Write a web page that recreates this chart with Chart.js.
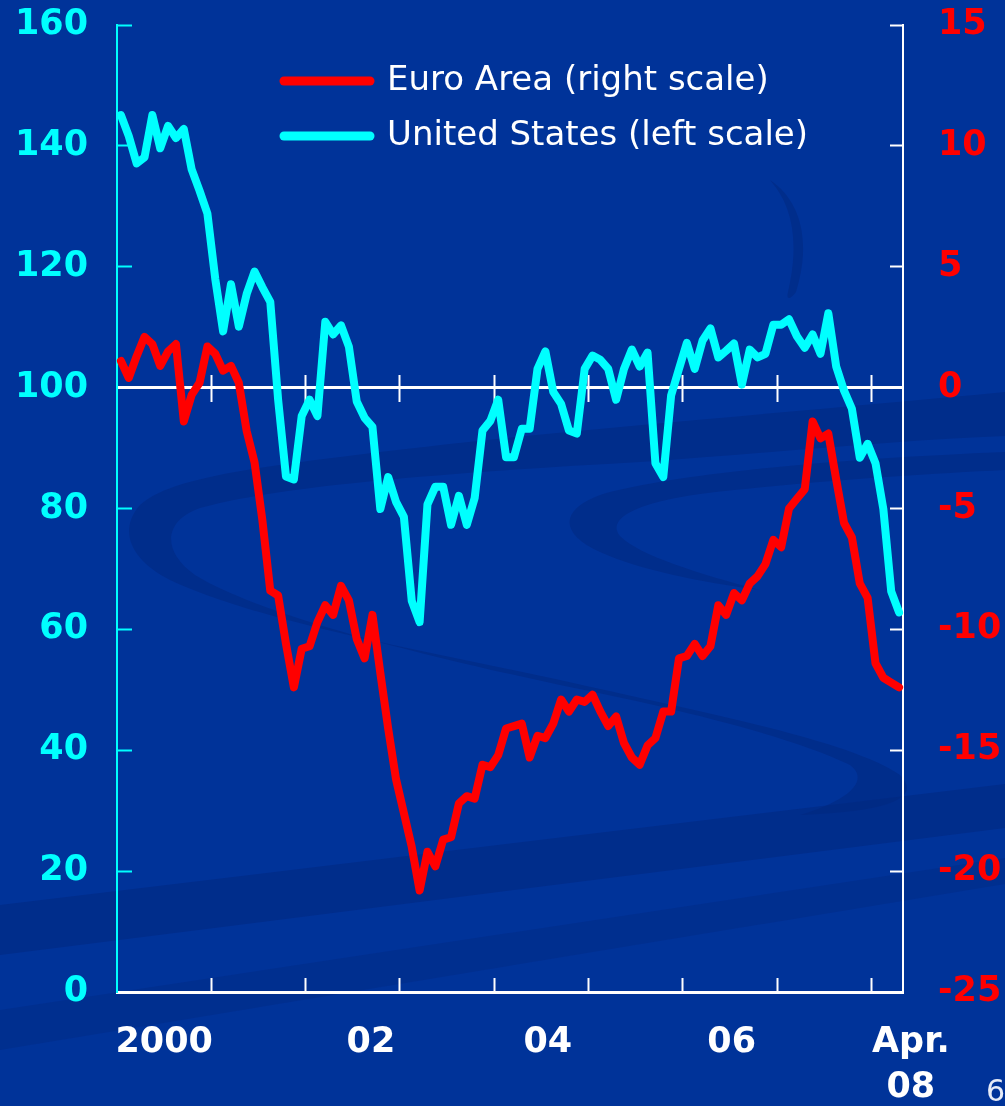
<!DOCTYPE html>
<html>
<head>
<meta charset="utf-8">
<script src="https://cdn.jsdelivr.net/npm/chart.js@4.4.1/dist/chart.umd.min.js"></script>
<style>
  html, body { margin: 0; padding: 0; background: #003399; overflow: hidden; }
  #wrap { position: relative; width: 1005px; height: 1106px; }
  #bg, #chart { position: absolute; left: 0; top: 0; }
  #page { position: absolute; left: 986px; top: 1073px; font: 30px "DejaVu Sans", sans-serif; color: #e6ebf7; }
</style>
</head>
<body>
<div id="wrap">
  <svg id="bg" width="1005" height="1106" viewBox="0 0 1005 1106">
    <rect width="1005" height="1106" fill="#003399"/>
    <g fill="#00287f" fill-opacity="0.55">
      <!-- large swoosh loop -->
      <path d="M1005,392 C820,410 560,430 380,452 C250,468 170,478 140,505 C118,530 130,560 170,580
               C260,622 420,650 560,680 C700,712 850,740 900,775 C925,800 880,812 800,815
               C850,800 870,780 850,765 C790,735 660,705 560,685 C420,655 260,615 195,575
               C160,550 165,520 200,508 C280,485 460,472 640,462 C780,452 900,440 1005,436 Z"/>
      <!-- smaller inner loop -->
      <path d="M1005,452 C860,458 700,470 610,492 C560,506 556,532 600,552 C640,570 700,582 760,590
               C700,574 640,556 620,536 C605,518 640,502 700,494 C800,482 920,474 1005,470 Z"/>
      <!-- upper right arc -->
      <path d="M770,180 C800,200 812,240 796,292 C790,300 786,300 788,292 C800,240 792,205 770,180 Z"/>
      <!-- diagonal bands -->
      <path d="M0,905 L1005,784 L1005,828 L0,955 Z"/>
      <path d="M0,1010 L1005,858 L1005,884 L0,1050 Z" fill-opacity="0.35"/>
    </g>
  </svg>
  <canvas id="chart" width="1005" height="1106"></canvas>
  <div id="page">6</div>
</div>
<script>
// Monthly consumer confidence, January 2000 to April 2008
const months = [];
for (let yr = 2000; yr <= 2008; yr++) {
  for (let m = 1; m <= 12; m++) {
    if (yr === 2008 && m > 4) break;
    months.push(yr + '-' + String(m).padStart(2, '0'));
  }
}

// Euro Area, balance of opinion (right scale)
const euroArea = [
  1.1, 0.4, 1.3, 2.1, 1.8, 0.9, 1.5, 1.8, -1.4, -0.3, 0.2, 1.7,
  1.4, 0.7, 0.9, 0.2, -1.8, -3.1, -5.5, -8.4, -8.6, -10.6, -12.4, -10.8,
  -10.7, -9.7, -9.0, -9.4, -8.2, -8.8, -10.4, -11.2, -9.4, -11.8, -14.1, -16.2,
  -17.6, -19.0, -20.8, -19.2, -19.8, -18.7, -18.6, -17.2, -16.9, -17.0, -15.6, -15.7,
  -15.2, -14.1, -14.0, -13.9, -15.3, -14.4, -14.5, -13.9, -12.9, -13.4, -12.9, -13.0,
  -12.7, -13.4, -14.0, -13.6, -14.7, -15.3, -15.6, -14.8, -14.5, -13.4, -13.4, -11.2,
  -11.1, -10.6, -11.1, -10.7, -9.0, -9.4, -8.5, -8.8, -8.1, -7.8, -7.3, -6.3,
  -6.6, -5.0, -4.6, -4.2, -1.4, -2.1, -1.9, -3.8, -5.6, -6.2, -8.1, -8.7,
  -11.4, -12.0, -12.2, -12.4
];

// United States, index 1985 = 100 (left scale)
const unitedStates = [
  145.1, 141.6, 137.1, 138.1, 145.1, 139.6, 143.3, 141.3, 142.8, 136.1, 132.6, 128.8,
  118.0, 109.3, 117.1, 110.1, 115.5, 119.2, 116.6, 114.2, 98.0, 85.3, 84.8, 95.3,
  98.0, 95.3, 110.9, 108.8, 110.3, 106.8, 97.7, 95.0, 93.5, 79.9, 85.2, 81.1,
  78.6, 64.7, 61.2, 80.7, 83.6, 83.6, 77.3, 82.1, 77.3, 81.7, 92.9, 94.5,
  98.0, 88.5, 88.5, 93.2, 93.2, 103.1, 106.0, 99.3, 97.3, 92.9, 92.4, 103.1,
  105.3, 104.6, 103.1, 98.0, 103.1, 106.3, 103.5, 105.8, 87.5, 85.2, 98.7, 103.1,
  107.4, 103.1, 107.8, 109.8, 105.0, 106.1, 107.3, 100.5, 106.3, 105.0, 105.6, 110.4,
  110.4, 111.3, 108.5, 106.6, 108.8, 105.6, 112.3, 103.5, 99.5, 96.5, 88.4, 90.7,
  87.5, 79.9, 66.3, 62.8
];

// Time axis: year boundaries (months since Jan 2000) and the year captions
const yearStarts = [12, 24, 36, 48, 60, 72, 84, 96];
const yearLabels = ['2000', '02', '04', '06', ['Apr.', '08']];
const yearLabelAt = [6, 32.3, 54.8, 78.2, 101];

const FONT = 'DejaVu Sans';
Chart.defaults.font.family = FONT;

const boldTicks = { family: FONT, weight: 'bold', size: 35, lineHeight: 1.3 };

function yearMarks(scale) {
  scale.ticks = yearStarts.map(v => ({ value: v }));
}

// The value axes keep their full height: no extra room reserved for end labels
function fixedWidth(w) {
  return function (scale) {
    scale.width = w;
    scale.paddingTop = 0;
    scale.paddingBottom = 0;
  };
}

// Places the legend block inside the plot, beside the upper curves
const legendInset = {
  id: 'legendInset',
  afterLayout(chart) {
    const lg = chart.legend;
    if (lg) {
      const pad = lg.options.labels.padding;
      lg.left = 284 - pad;
      lg.top = 81 - 17 - pad;
    }
  }
};

new Chart(document.getElementById('chart'), {
  type: 'line',
  data: {
    labels: months,
    datasets: [
      {
        label: 'Euro Area (right scale)',
        data: euroArea,
        xAxisID: 'x', yAxisID: 'y1',
        borderColor: '#ff0000', backgroundColor: '#ff0000',
        borderWidth: 8, pointRadius: 0, tension: 0,
        borderJoinStyle: 'round', borderCapStyle: 'round', fill: false
      },
      {
        label: 'United States (left scale)',
        data: unitedStates,
        xAxisID: 'x', yAxisID: 'y',
        borderColor: '#00ffff', backgroundColor: '#00ffff',
        borderWidth: 8, pointRadius: 0, tension: 0,
        borderJoinStyle: 'round', borderCapStyle: 'round', fill: false
      }
    ]
  },
  options: {
    responsive: false,
    animation: false,
    events: [],
    layout: { padding: { top: 25, left: 0, right: 0, bottom: 0 } },
    plugins: {
      tooltip: { enabled: false },
      legend: {
        position: 'chartArea',
        align: 'start',
        labels: {
          usePointStyle: true,
          pointStyle: 'line',
          pointStyleWidth: 86,
          color: '#ffffff',
          font: { family: FONT, size: 34 },
          padding: 21,
          generateLabels(chart) {
            const items = Chart.defaults.plugins.legend.labels.generateLabels(chart);
            items.forEach(it => { it.lineCap = 'round'; it.lineWidth = 9; });
            return items;
          }
        }
      }
    },
    scales: {
      x: { type: 'category', offset: true, display: false },
      xt: {
        type: 'linear', position: 'bottom', min: 0, max: 100,
        afterBuildTicks(scale) {
          const t = yearStarts.map(v => ({ value: v })).concat(yearLabelAt.map(v => ({ value: v })));
          t.sort((a, b) => a.value - b.value);
          scale.ticks = t;
        },
        afterFit(scale) { scale.height = 114; },
        ticks: {
          autoSkip: false, maxRotation: 0, minRotation: 0,
          color: '#ffffff', font: boldTicks, padding: 42,
          callback(value) {
            const i = yearLabelAt.indexOf(value);
            return i >= 0 ? yearLabels[i] : '';
          }
        },
        grid: {
          drawOnChartArea: false, drawTicks: true, tickLength: -14, tickWidth: 2,
          tickColor: ctx => (ctx.tick && yearStarts.includes(ctx.tick.value)) ? '#ffffff' : 'rgba(0,0,0,0)'
        },
        border: { display: true, color: '#ffffff', width: 3 }
      },
      xz: {
        type: 'linear', position: { y: 100 }, min: 0, max: 100,
        afterBuildTicks: yearMarks,
        ticks: { display: false },
        grid: { drawOnChartArea: false, tickLength: 13, tickWidth: 2, tickColor: '#ffffff' },
        border: { display: true, color: '#ffffff', width: 3 }
      },
      xz2: {
        type: 'linear', position: { y: 100 }, min: 0, max: 100,
        afterBuildTicks: yearMarks,
        ticks: { display: false },
        grid: { drawOnChartArea: false, tickLength: -13, tickWidth: 2, tickColor: '#ffffff' },
        border: { display: false }
      },
      y: {
        position: 'left', min: 0, max: 160,
        afterFit: fixedWidth(117),
        ticks: { stepSize: 20, color: '#00ffff', font: boldTicks, padding: 44 },
        grid: { drawOnChartArea: false, tickLength: -15, tickWidth: 2, tickColor: '#00ffff' },
        border: { display: true, color: '#00ffff', width: 2 }
      },
      y1: {
        position: 'right', min: -25, max: 15,
        afterFit: fixedWidth(102),
        ticks: { stepSize: 5, color: '#ff0000', font: boldTicks, padding: 48 },
        grid: { drawOnChartArea: false, tickLength: -13, tickWidth: 2, tickColor: '#ffffff' },
        border: { display: true, color: '#ffffff', width: 2 }
      }
    }
  },
  plugins: [legendInset]
});
</script>
</body>
</html>
